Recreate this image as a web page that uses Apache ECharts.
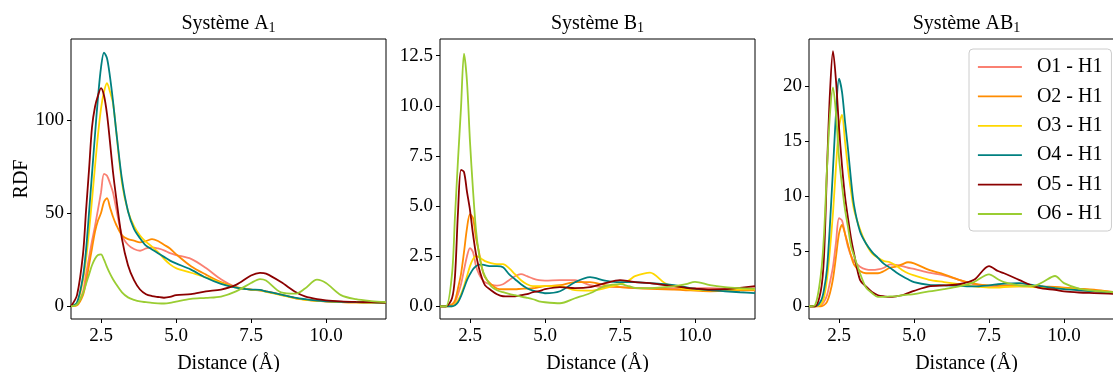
<!DOCTYPE html>
<html>
<head>
<meta charset="utf-8">
<script src="https://cdn.jsdelivr.net/npm/echarts@6/dist/echarts.min.js"></script>
<style>
  html, body { margin: 0; padding: 0; background: #fff; }
  #chart { width: 1113px; height: 372px; }
</style>
</head>
<body>
<div id="chart"></div>
<script>
// distances (Å) shared by every curve
const distances = [1.5, 1.7, 1.9, 2.0, 2.1, 2.2, 2.3, 2.4, 2.5, 2.6,
  2.7, 2.8, 2.9, 3.0, 3.2, 3.4, 3.6, 3.8, 4.0, 4.2,
  4.4, 4.6, 4.8, 5.0, 5.5, 6.0, 6.5, 7.0, 7.5, 7.8,
  8.0, 8.5, 9.0, 9.3, 9.7, 10.0, 10.5, 11.0, 11.5, 12.0]

const pairNames = ['O1 - H1', 'O2 - H1', 'O3 - H1', 'O4 - H1', 'O5 - H1', 'O6 - H1']
const xTicks = [2.5, 5, 7.5, 10]

// Système A1
const sysA_O1 = [0, 1, 8, 17, 26, 35, 43, 52, 61, 71, 70, 66, 61, 53, 38, 33, 30.7, 29.8, 31, 31.6,
  31, 30, 28.5, 27.5, 25.4, 20.5, 14.5, 10.3, 9, 8.5, 8, 6.3, 4.3, 3.6, 2.9, 2.6, 2.3, 2.1, 2.0, 1.9]
const sysA_O2 = [0, 0.5, 6, 13, 22, 31, 40, 46, 50, 56, 58, 53, 48, 44, 38, 36, 35.2, 34.3, 35, 36,
  35, 33, 31, 28, 21.5, 17, 13, 10.3, 9, 8.6, 8, 6.3, 4.3, 3.6, 2.9, 2.6, 2.3, 2.1, 2.0, 1.9]
const sysA_O3 = [0, 1.5, 14, 25, 40, 57, 75, 92, 106, 115, 119.6, 115, 109, 95, 66, 51, 43, 38, 34.5, 32,
  29, 25.5, 22.5, 20.5, 18, 15.5, 12.5, 10, 9, 8.5, 7.8, 6, 4.2, 3.5, 2.9, 2.6, 2.3, 2.1, 2.0, 1.9]
const sysA_O4 = [0, 2, 16, 30, 50, 71, 92, 112, 128, 136, 133, 123, 110, 95, 68, 51, 41.5, 36.5, 32.5, 30.5,
  28.5, 26.5, 24.5, 23, 19.7, 15.3, 12, 10, 9, 8.8, 8, 6.3, 4.5, 3.8, 3, 2.7, 2.4, 2.2, 2.1, 2.0]
const sysA_O5 = [0, 6, 28, 51, 73, 96, 107, 113, 117, 113, 103, 88, 72, 59, 36, 22, 14, 9, 6.5, 5.5,
  5, 4.6, 5, 6, 6.5, 8, 9, 11.5, 16.5, 17.9, 17.5, 13, 7.5, 5.3, 3.8, 3.2, 2.7, 2.4, 2.2, 2.0]
const sysA_O6 = [0, 1, 7, 12, 17, 22, 25.5, 27.5, 27.8, 25, 21, 17.5, 14.5, 12, 7.5, 4.8, 3.5, 2.6, 2.2, 1.8,
  1.6, 1.5, 1.8, 2.5, 4, 4.5, 5.2, 8, 12.5, 14.6, 13.8, 7.5, 6.8, 9.5, 14.3, 12.5, 6, 3.8, 2.8, 2.2]

// Système B1
const sysB_O1 = [0, 0, 0.05, 0.2, 0.6, 1.1, 1.8, 2.5, 2.9, 2.7, 2.0, 1.6, 1.35, 1.2, 1.08, 1.03, 1.1, 1.3, 1.5, 1.6,
  1.5, 1.38, 1.3, 1.28, 1.3, 1.3, 1.05, 0.95, 0.95, 0.93, 0.92, 0.9, 0.9, 0.9, 0.9, 0.9, 0.9, 0.88, 0.88, 0.9]
const sysB_O2 = [0, 0, 0.1, 0.3, 0.9, 1.6, 2.7, 3.9, 4.6, 4.4, 3.4, 2.7, 1.9, 1.45, 1.1, 0.88, 0.85, 0.85, 0.85, 0.87,
  0.88, 0.9, 0.95, 1.0, 1.05, 1.2, 1.2, 1.05, 0.95, 0.92, 0.9, 0.87, 0.85, 0.83, 0.8, 0.78, 0.75, 0.77, 0.8, 0.8]
const sysB_O3 = [0, 0, 0, 0.1, 0.3, 0.6, 1.0, 1.5, 2.0, 2.35, 2.5, 2.45, 2.35, 2.25, 2.15, 2.1, 2.1, 1.9, 1.6, 1.3,
  1.1, 1.0, 1.0, 1.0, 1.0, 0.8, 0.78, 0.9, 1.1, 1.3, 1.5, 1.68, 1.15, 1.0, 0.85, 0.82, 0.8, 0.82, 0.85, 0.85]
const sysB_O4 = [0, 0, 0, 0.05, 0.2, 0.5, 0.9, 1.3, 1.6, 1.85, 2.0, 2.08, 2.08, 2.05, 2.0, 2.0, 1.95, 1.6, 1.35, 1.1,
  0.9, 0.78, 0.7, 0.65, 0.75, 1.2, 1.45, 1.28, 1.2, 1.2, 1.2, 1.15, 1.1, 1.05, 0.95, 0.88, 0.8, 0.75, 0.7, 0.66]
const sysB_O5 = [0, 0, 0.4, 1.5, 4.7, 6.8, 6.7, 5.7, 4.8, 3.6, 2.6, 1.9, 1.4, 1.05, 0.8, 0.6, 0.5, 0.49, 0.5, 0.55,
  0.6, 0.7, 0.75, 0.85, 0.95, 0.9, 0.95, 1.15, 1.3, 1.25, 1.2, 1.15, 1.05, 1.0, 0.92, 0.88, 0.83, 0.85, 0.92, 1.0]
const sysB_O6 = [0, 0, 1.6, 4.5, 7.3, 9.9, 12.6, 11.2, 8.2, 5.8, 3.8, 2.6, 1.9, 1.5, 1.0, 0.8, 0.7, 0.62, 0.55, 0.48,
  0.42, 0.35, 0.25, 0.2, 0.15, 0.4, 0.65, 1.0, 1.1, 1.0, 0.92, 0.9, 0.95, 1.0, 1.1, 1.22, 1.05, 0.95, 0.9, 0.87]

// Système AB1
const sysAB_O1 = [0, 0, 0.1, 0.4, 1.0, 2.2, 3.6, 5.8, 8.0, 7.8, 6.6, 5.4, 4.6, 4.1, 3.6, 3.35, 3.3, 3.35, 3.5, 3.8,
  3.75, 3.65, 3.5, 3.4, 3.05, 2.8, 2.4, 2.0, 1.85, 1.8, 1.8, 1.8, 1.8, 1.75, 1.7, 1.65, 1.5, 1.4, 1.3, 1.2]
const sysAB_O2 = [0, 0, 0, 0.1, 0.4, 1.2, 2.5, 4.5, 6.6, 7.4, 6.6, 5.6, 4.6, 3.8, 3.2, 3.0, 3.0, 3.0, 3.2, 3.5,
  3.6, 3.8, 4.0, 3.9, 3.3, 2.9, 2.4, 2.05, 1.9, 1.9, 1.9, 1.9, 1.85, 1.8, 1.75, 1.7, 1.6, 1.5, 1.35, 1.2]
const sysAB_O3 = [0, 0, 0.2, 0.8, 2.5, 5.2, 8.5, 12.7, 16.3, 17.4, 15, 12.5, 10.5, 8.8, 7.0, 5.7, 4.8, 4.4, 4.1, 4.0,
  3.7, 3.3, 3.0, 2.8, 2.4, 2.2, 2.0, 1.8, 1.7, 1.7, 1.75, 1.8, 1.75, 1.7, 1.65, 1.6, 1.5, 1.4, 1.3, 1.2]
const sysAB_O4 = [0, 0, 0.5, 1.5, 3.4, 7.5, 12.5, 17.5, 20.7, 19.5, 16.8, 14.3, 11.5, 9.2, 6.8, 5.7, 4.95, 4.4, 3.85, 3.5,
  3.1, 2.75, 2.45, 2.2, 1.95, 1.9, 1.85, 1.8, 1.9, 2.0, 2.05, 2.1, 1.9, 1.8, 1.65, 1.55, 1.45, 1.35, 1.25, 1.2]
const sysAB_O5 = [0, 0, 1.5, 4.5, 12.5, 19.5, 23.2, 20.5, 16.3, 12.8, 10, 8, 6.2, 4.8, 2.4, 1.8, 1.3, 1.0, 0.9, 0.85,
  0.9, 1.0, 1.2, 1.4, 1.8, 1.9, 2.0, 2.4, 3.65, 3.2, 3.0, 2.4, 1.8, 1.6, 1.5, 1.35, 1.25, 1.2, 1.15, 1.1]
const sysAB_O6 = [0, 0.1, 3, 6.5, 12.5, 17.5, 19.9, 17.5, 13.5, 11, 8.8, 7.2, 5.5, 4.6, 3.0, 1.7, 1.2, 0.85, 0.85, 0.9,
  0.9, 1.0, 1.05, 1.1, 1.35, 1.55, 1.8, 2.2, 2.9, 2.45, 2.2, 1.9, 1.85, 2.2, 2.75, 2.1, 1.6, 1.4, 1.3, 1.2]

const colors = ['#fa8072', '#ff8c00', '#ffd700', '#008080', '#8b0000', '#9acd32']
const FONT = 'Liberation Serif'

const panels = [
  { title: 'Système A{sub|1}', curves: [sysA_O1, sysA_O2, sysA_O3, sysA_O4, sysA_O5, sysA_O6],
    yMin: -6.8, yMax: 143.3, yTicks: [0, 50, 100], digits: 0 },
  { title: 'Système B{sub|1}', curves: [sysB_O1, sysB_O2, sysB_O3, sysB_O4, sysB_O5, sysB_O6],
    yMin: -0.635, yMax: 13.33, yTicks: [0, 2.5, 5, 7.5, 10, 12.5], digits: 1 },
  { title: 'Système AB{sub|1}', curves: [sysAB_O1, sysAB_O2, sysAB_O3, sysAB_O4, sysAB_O5, sysAB_O6],
    yMin: -1.16, yMax: 24.3, yTicks: [0, 5, 10, 15, 20], digits: 0 }
]

const lefts = [71, 440, 809]
const plotW = 315
const plotH = 280
const plotTop = 39

const labelStyle = { fontFamily: FONT, fontSize: 19, color: '#000' }

const chart = echarts.init(document.getElementById('chart'), null, { renderer: 'canvas' })

const series = []
panels.forEach((p, i) => {
  p.curves.forEach((ys, k) => {
    series.push({
      type: 'line',
      name: pairNames[k],
      xAxisIndex: i,
      yAxisIndex: i,
      data: distances.map((d, j) => [d, ys[j]]),
      symbol: 'none',
      smooth: 0.3,
      lineStyle: { width: 1.8, color: colors[k] },
      itemStyle: { color: colors[k] },
      emphasis: { disabled: true }
    })
  })
})

chart.setOption({
  animation: false,
  backgroundColor: '#fff',
  title: panels.map((p, i) => ({
    text: p.title,
    left: lefts[i] + plotW / 2,
    top: 12,
    textAlign: 'center',
    padding: 0,
    textStyle: {
      fontFamily: FONT,
      fontSize: 20,
      fontWeight: 'normal',
      color: '#000',
      rich: {
        sub: { fontFamily: FONT, fontSize: 14, color: '#000', padding: [9, 0, 0, 0] }
      }
    }
  })),
  legend: {
    data: pairNames,
    orient: 'vertical',
    left: 969,
    top: 49,
    itemWidth: 44,
    itemHeight: 20,
    itemGap: 9.4,
    padding: [8, 9, 7, 8],
    backgroundColor: 'rgba(255,255,255,0.8)',
    borderColor: '#cccccc',
    borderWidth: 1,
    borderRadius: 4,
    itemStyle: { opacity: 0 },
    lineStyle: { width: 1.8 },
    textStyle: { fontFamily: FONT, fontSize: 20, color: '#000', padding: [0, 0, 0, 10] }
  },
  grid: panels.map((p, i) => ({
    left: lefts[i],
    top: plotTop,
    width: plotW,
    height: plotH,
    show: true,
    borderColor: '#000',
    borderWidth: 1,
    containLabel: false,
    outerBoundsMode: 'none'
  })),
  xAxis: panels.map((p, i) => ({
    type: 'value',
    gridIndex: i,
    min: 1.5,
    max: 12,
    splitLine: { show: false },
    axisLine: { show: false, onZero: false },
    axisTick: { show: true, length: 4, lineStyle: { color: '#000' }, customValues: xTicks },
    axisLabel: { ...labelStyle, margin: 8, customValues: xTicks, formatter: v => v.toFixed(1) },
    name: 'Distance (Å)',
    nameLocation: 'middle',
    nameGap: 35,
    nameTextStyle: { fontFamily: FONT, fontSize: 20, color: '#000' }
  })),
  yAxis: panels.map((p, i) => ({
    type: 'value',
    gridIndex: i,
    min: p.yMin,
    max: p.yMax,
    splitLine: { show: false },
    axisLine: { show: false, onZero: false },
    axisTick: { show: true, length: 4, lineStyle: { color: '#000' }, customValues: p.yTicks },
    axisLabel: { ...labelStyle, margin: 7, customValues: p.yTicks, formatter: v => v.toFixed(p.digits) },
    name: i === 0 ? 'RDF' : '',
    nameLocation: 'middle',
    nameGap: 39,
    nameTextStyle: { fontFamily: FONT, fontSize: 20, color: '#000' }
  })),
  series: series
})
</script>
</body>
</html>
